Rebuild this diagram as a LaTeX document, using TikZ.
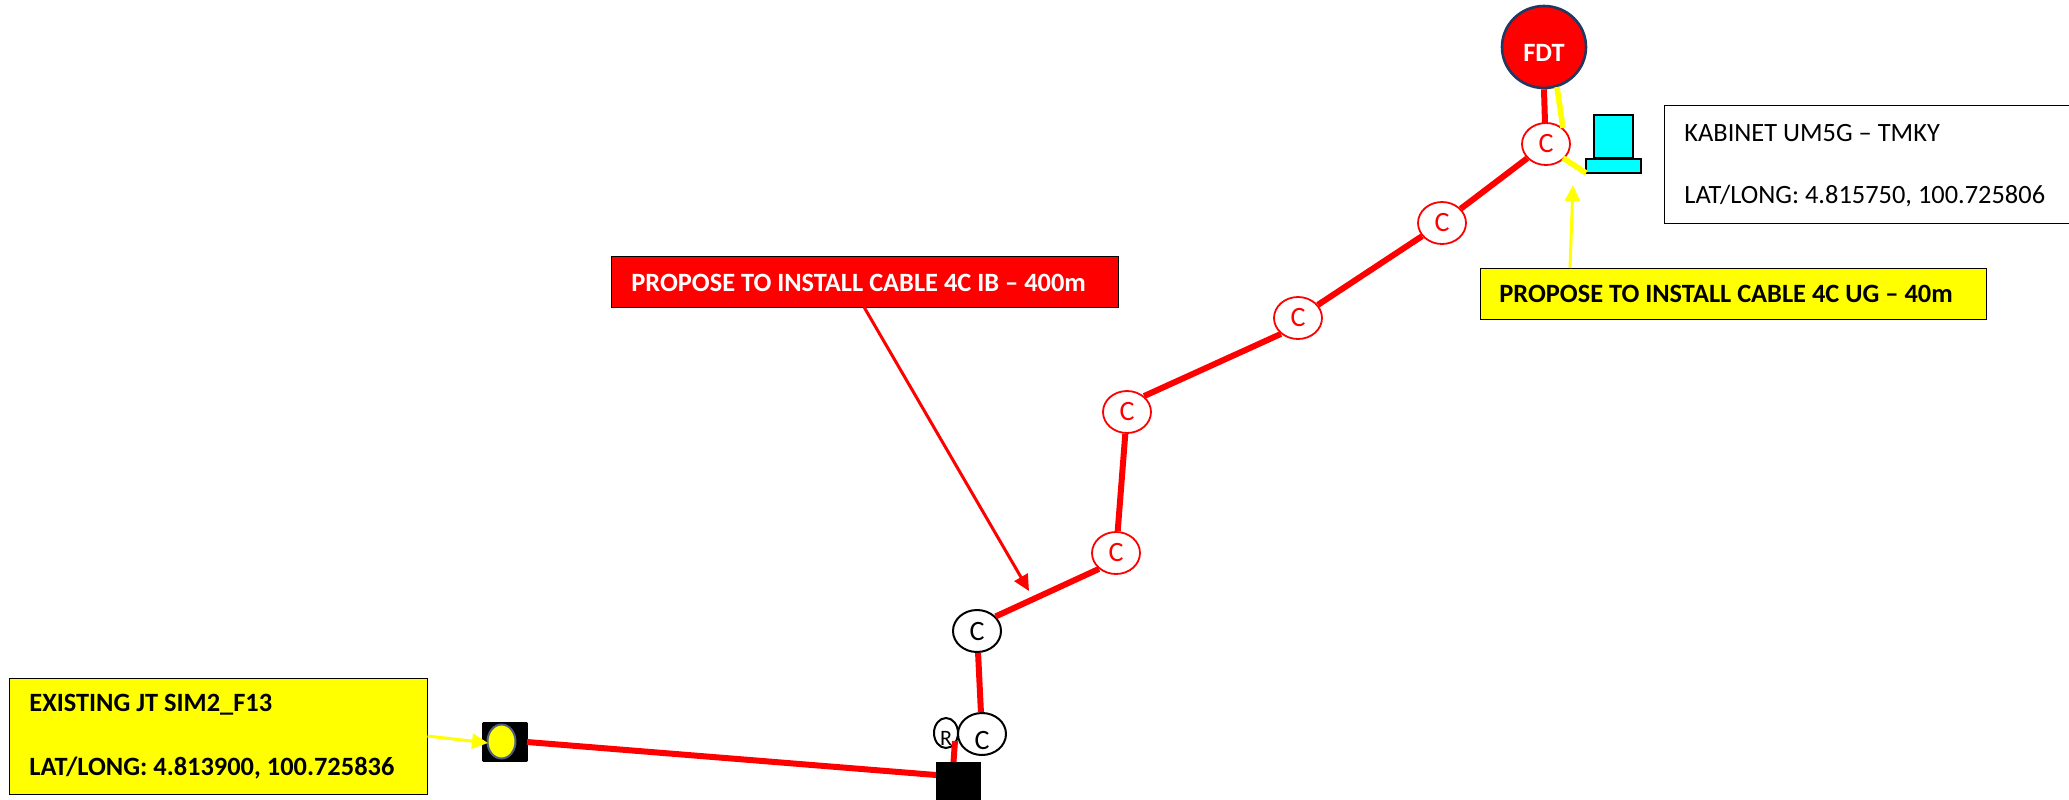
\documentclass[tikz,border=0pt]{standalone}
\usepackage{fontspec}
\setmainfont{Carlito}
\usetikzlibrary{shapes.geometric,arrows.meta}
\definecolor{navyline}{RGB}{31,56,100}
\definecolor{cyanfill}{RGB}{0,255,255}
\definecolor{pureyellow}{RGB}{255,255,0}
\definecolor{purered}{RGB}{255,0,0}
\tikzset{
  x=0.5pt,y=-0.5pt,
  pole/.style={ellipse,draw=purered,fill=white,line width=0.9pt,minimum width=24pt,minimum height=21pt,inner sep=0pt,text=purered,font=\fontsize{14}{16}\selectfont},
  polek/.style={pole,draw=black,text=black,line width=1pt},
  redcable/.style={draw=purered,line width=3pt},
  yelcable/.style={draw=pureyellow,line width=2.8pt},
  redarrow/.style={draw=purered,line width=1.5pt,-{Triangle[length=8pt,width=7.5pt]}},
  yelarrow/.style={draw=pureyellow,line width=1.5pt,-{Triangle[length=8pt,width=7.5pt]}},
  labelbox/.style={draw=black,line width=0.6pt,anchor=north west,inner sep=0pt},
  labeltext/.style={anchor=west,inner sep=0pt,font=\fontsize{13.2}{15}\selectfont},
  labelbold/.style={anchor=west,inner sep=0pt,font=\bfseries\fontsize{13.2}{15}\selectfont},
  cabinet/.style={draw=black,fill=cyanfill,line width=1pt,inner sep=0pt},
}
\begin{document}
\begin{tikzpicture}
\useasboundingbox (0,0) rectangle (2069,799);
% nodes
\node[ellipse,draw=navyline,fill=purered,line width=1.3pt,minimum width=42pt,minimum height=41pt,inner sep=0pt,text=white,font=\bfseries\fontsize{13.2}{15}\selectfont] (fdt) at (1544,47) {\raisebox{-7pt}[0pt][0pt]{FDT}};
\node[pole] (c1) at (1546,144) {C};
\node[pole] (c2) at (1442,223) {C};
\node[pole] (c3) at (1298,318) {C};
\node[pole] (c4) at (1127,412) {C};
\node[pole] (c5) at (1116,553) {C};
\node[polek] (c6) at (977,631) {C};
\node[polek] (c7) at (982,734) {\raisebox{-7.5pt}[0pt][0pt]{C}};
\node[polek,minimum width=12pt,minimum height=15pt,font=\fontsize{11}{12}\selectfont] (r) at (946,733) {\raisebox{-6pt}[0pt][0pt]{R}};
\node[draw=black,fill=black,minimum width=22pt,minimum height=18.5pt,inner sep=0pt,anchor=north west] (sq) at (936,762) {};
\node[draw=black,fill=black,rounded corners=0.5pt,minimum width=22.5pt,minimum height=19.5pt,inner sep=0pt] (jtbox) at (505,742) {};
\node[ellipse,draw=navyline!80!white,fill=pureyellow,line width=1pt,minimum width=14pt,minimum height=17pt,inner sep=0pt] (jt) at (501.5,741.5) {};
\node[cabinet,minimum width=19.5pt,minimum height=21.5pt] (cabtop) at (1613.5,136.5) {};
\node[cabinet,minimum width=27.5pt,minimum height=7pt] (cabbase) at (1613.5,165.5) {};
% labels
\node[labelbox,fill=white,minimum width=202.5pt,minimum height=59pt] (kab) at (1664,105) {};
\node[labeltext] (kab1) at (1684,133) {KABINET UM5G – TMKY};
\node[labeltext] (kab2) at (1684,196) {LAT/LONG: 4.815750, 100.725806};
\node[labelbox,fill=pureyellow,minimum width=253pt,minimum height=25.5pt] (ylab) at (1480,268) {};
\node[labelbold] (ylabt) at (1499,294) {PROPOSE TO INSTALL CABLE 4C UG – 40m};
\node[labelbox,fill=purered,minimum width=253.5pt,minimum height=25.5pt] (rlab) at (611,256) {};
\node[labelbold,text=white] (rlabt) at (631,283) {PROPOSE TO INSTALL CABLE 4C IB – 400m};
\node[labelbox,fill=pureyellow,minimum width=209pt,minimum height=58pt] (jlab) at (9,678) {};
\node[labelbold] (jlab1) at (29,705) {EXISTING JT SIM2\_F13};
\node[labelbold] (jlab2) at (29,768) {LAT/LONG: 4.813900, 100.725836};
% free ends
\coordinate (yf) at (1557,87);
\coordinate (yc) at (1563,128);
\coordinate (yc2) at (1563,158);
\coordinate (ycab) at (1586,173);
\coordinate (rbot) at (1545,123);
\coordinate (rtop) at (955,741);
\coordinate (sqt) at (953.5,762);
\coordinate (jte) at (527,742);
\coordinate (sql) at (936,775);
\coordinate (rtip) at (1029,591);
\coordinate (rsrc) at (864,307);
\coordinate (ytip) at (1573,185);
\coordinate (ysrc) at (1570,268);
\coordinate (jsrc) at (427.5,736);
\coordinate (jtip) at (488,743);
% connectors
\draw[redcable] (fdt.south) -- (rbot);
\draw[yelcable] (yf) -- (yc);
\draw[yelcable] (yc2) -- (ycab);
\draw[redcable] (c1) -- (c2);
\draw[redcable] (c2) -- (c3);
\draw[redcable] (c3.223) -- (c4.43);
\draw[redcable] (c4) -- (c5);
\draw[redcable] (c5.223) -- (c6.38);
\draw[redcable] (c6) -- (c7);
\draw[redcable] (rtop) -- (sqt);
\draw[redcable] (jte) -- (sql);
\draw[redarrow] (rsrc) -- (rtip);
\draw[yelarrow] (ysrc) -- (ytip);
\draw[yelarrow] (jsrc) -- (jtip);
\end{tikzpicture}
\end{document}
